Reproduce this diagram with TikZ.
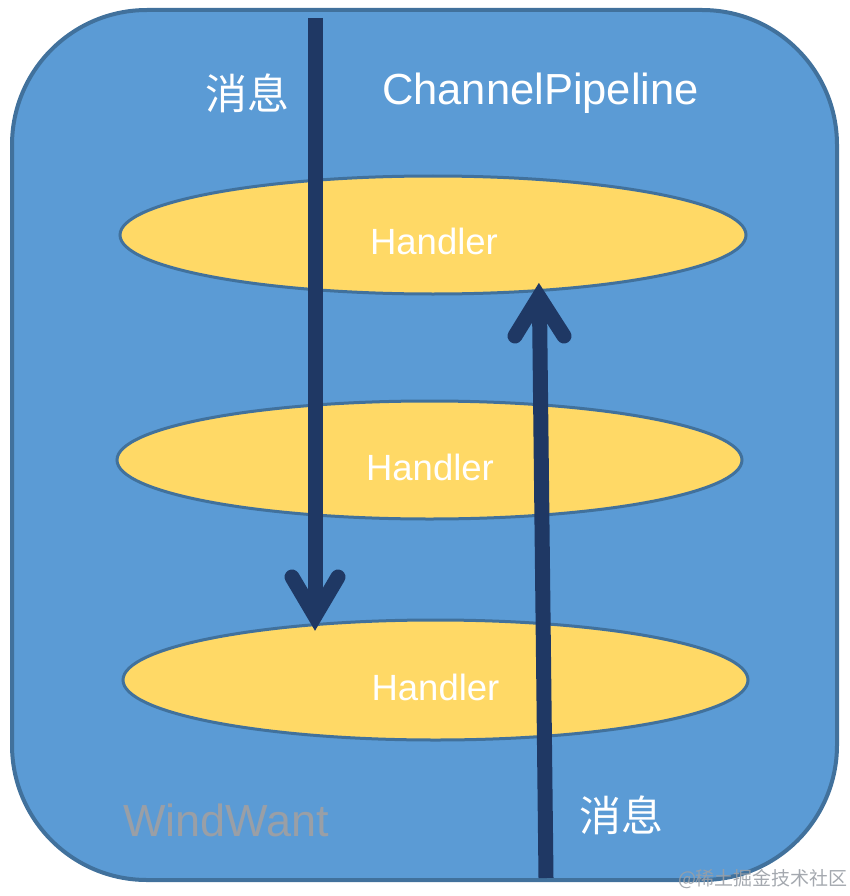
\documentclass[tikz,border=0pt]{standalone}
\usepackage{fontspec}
\setmainfont{Liberation Sans}
\newfontfamily\cjk{Noto Sans CJK SC}
\usetikzlibrary{shapes.geometric}
\definecolor{boxfill}{HTML}{5B9BD5}
\definecolor{boxline}{HTML}{41719C}
\definecolor{ellfill}{HTML}{FFD966}
\definecolor{navy}{HTML}{1F3864}
\definecolor{wmgray}{HTML}{9A9FA6}
\tikzset{
  pipebox/.style={draw=boxline, fill=boxfill, line width=4pt, rounded corners=135pt},
  handlerell/.style={ellipse, draw=boxline, fill=ellfill, line width=3pt, inner sep=0pt},
  htext/.style={text=white, font=\fontsize{36.5}{40}\selectfont, anchor=base, inner sep=0pt},
  cjktext/.style={text=white, font=\cjk\fontsize{42}{46}\selectfont, inner sep=0pt},
  shaft/.style={draw=navy, line width=15pt, line cap=butt},
  head/.style={draw=navy, line width=15pt, line cap=round, line join=miter, miter limit=10},
}
\begin{document}
\begin{tikzpicture}[x=1pt, y=-1pt]
\useasboundingbox (0,0) rectangle (850,896);
\draw[pipebox] (12,10) rectangle (837,880);
\node[handlerell, minimum width=626pt, minimum height=118pt] (h1) at (433,235) {};
\node[handlerell, minimum width=625pt, minimum height=118pt] (h2) at (429.5,460) {};
\node[handlerell, minimum width=625pt, minimum height=120pt] (h3) at (435.5,680) {};
\node[htext] (t1) at (434,254) {Handler};
\node[htext] (t2) at (430,480) {Handler};
\node[htext] (t3) at (435.5,700) {Handler};
\node[htext, font=\fontsize{43.5}{46}\selectfont] (title) at (540.5,105) {ChannelPipeline};
\node[htext, text=wmgray, font=\fontsize{45}{48}\selectfont] (wm) at (226,836) {WindWant};
\node[cjktext] (m1) at (247.5,93) {消息};
\node[cjktext] (m2) at (621,815) {消息};
% down arrow
\coordinate (d0) at (315,18);
\coordinate (d1) at (315,612);
\draw[shaft] (d0) -- (d1);
\draw[head] (292,577) -- (315,616) -- (338,577);
% up arrow
\coordinate (u0) at (546,878);
\coordinate (u1) at (539.5,305);
\draw[shaft] (u0) -- (u1);
\draw[head] (515,336) -- (539,297) -- (564,336);
\node[text=wmgray, font=\cjk\fontsize{19}{21}\selectfont, inner sep=0pt, opacity=0.9] (wm2) at (763,879) {@稀土掘金技术社区};
\end{tikzpicture}
\end{document}
